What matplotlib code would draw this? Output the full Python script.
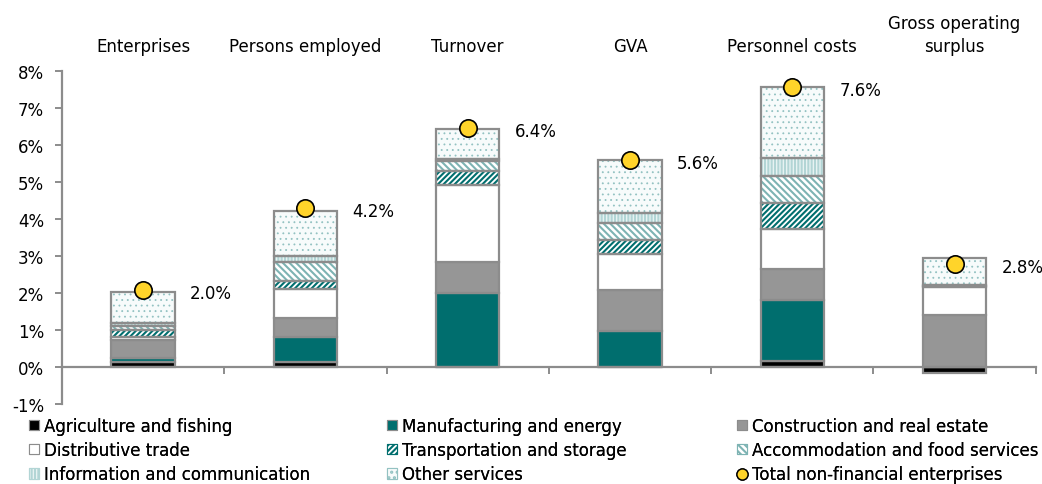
import matplotlib
matplotlib.use("Agg")
import matplotlib.pyplot as plt
from matplotlib.patches import Patch
from matplotlib.lines import Line2D
import numpy as np

plt.rcParams["hatch.linewidth"] = 1.5

categories = ["Enterprises", "Persons employed", "Turnover", "GVA",
              "Personnel costs", "Gross operating\nsurplus"]

agriculture    = [0.14, 0.14, 0.01, 0.00, 0.15, -0.15]
manufacturing  = [0.11, 0.66, 1.99, 0.97, 1.65, 0.00]
construction   = [0.49, 0.52, 0.85, 1.10, 0.85, 1.41]
distributive   = [0.06, 0.78, 2.07, 0.99, 1.07, 0.75]
transportation = [0.20, 0.23, 0.39, 0.37, 0.71, 0.02]
accommodation  = [0.10, 0.50, 0.27, 0.45, 0.74, 0.01]
information    = [0.10, 0.18, 0.05, 0.28, 0.48, 0.02]
other_services = [0.83, 1.21, 0.80, 1.44, 1.92, 0.73]

totals       = [2.08, 4.29, 6.45, 5.60, 7.57, 2.78]
total_labels = ["2.0%", "4.2%", "6.4%", "5.6%", "7.6%", "2.8%"]

series_names = ["Agriculture and fishing", "Manufacturing and energy",
                "Construction and real estate", "Distributive trade",
                "Transportation and storage", "Accommodation and food services",
                "Information and communication", "Other services"]
series_vals = [agriculture, manufacturing, construction, distributive,
               transportation, accommodation, information, other_services]

TEAL = "#006E6E"
EDGE = "#8C8C8C"
styles = [
    dict(facecolor="black", hatch=None, hcolor=None, hlw=None),
    dict(facecolor=TEAL, hatch=None, hcolor=None, hlw=None),
    dict(facecolor="#969696", hatch=None, hcolor=None, hlw=None),
    dict(facecolor="white", hatch=None, hcolor=None, hlw=None),
    dict(facecolor="white", hatch="//////", hcolor=TEAL, hlw=1.5),
    dict(facecolor="white", hatch="\\\\\\\\\\", hcolor="#7DB3B3", hlw=1.5),
    dict(facecolor="#EAF4F4", hatch="|||||", hcolor="#B2D5D5", hlw=1.5),
    dict(facecolor="#F7FBFB", hatch="...", hcolor="#93C2C2", hlw=0.6),
]

FS = 12
fig = plt.figure(figsize=(10.42, 4.85), dpi=100)
ax = fig.add_axes([0.0595, 0.165, 0.9345, 0.6865])

x = np.arange(len(categories))
width = 0.39
pos_bottom = np.zeros(len(categories))
neg_bottom = np.zeros(len(categories))

for vals, st in zip(series_vals, styles):
    vals = np.array(vals, dtype=float)
    bottoms = np.where(vals >= 0, pos_bottom, neg_bottom)
    if st["hatch"]:
        with plt.rc_context({"hatch.linewidth": st["hlw"]}):
            bars = ax.bar(x, vals, width, bottom=bottoms, facecolor=st["facecolor"],
                          edgecolor=st["hcolor"], hatch=st["hatch"], linewidth=0,
                          zorder=2)
        for b in bars:
            if hasattr(b, "set_hatch_linewidth"):
                b.set_hatch_linewidth(st["hlw"])
        ax.bar(x, vals, width, bottom=bottoms, fill=False,
               edgecolor=EDGE, linewidth=1.6, zorder=3)
    else:
        ax.bar(x, vals, width, bottom=bottoms, facecolor=st["facecolor"],
               edgecolor=EDGE, linewidth=1.6, zorder=3)
    pos_bottom = pos_bottom + np.where(vals >= 0, vals, 0)
    neg_bottom = neg_bottom + np.where(vals < 0, vals, 0)

ax.plot(x, totals, linestyle="none", marker="o", markersize=12.5,
        markerfacecolor="#FFD42A", markeredgecolor="black",
        markeredgewidth=1.2, zorder=5)

for xi, t, lab in zip(x, totals, total_labels):
    ax.annotate(lab, (xi, t), xytext=(47, -3), textcoords="offset pixels",
                ha="left", va="center", fontsize=FS, color="black")

for xi, cat in zip(x, categories):
    ax.annotate(cat, (xi, 8), xytext=(0, 16), textcoords="offset pixels",
                ha="center", va="bottom", fontsize=FS, annotation_clip=False,
                linespacing=1.35)

ax.set_xlim(-0.5, len(categories) - 0.5)
ax.set_ylim(-1, 8)
ax.set_yticks(np.arange(-1, 9, 1))
ax.set_yticklabels([f"{v}%" for v in range(-1, 9)], fontsize=FS)
ax.set_xticks(np.arange(-0.5, len(categories), 1))
ax.set_xticklabels([])
ax.tick_params(axis="x", direction="out", length=5, color=EDGE, width=1.4)
ax.tick_params(axis="y", direction="out", length=5, color=EDGE, width=1.4, pad=8)

for s in ["top", "right"]:
    ax.spines[s].set_visible(False)
ax.spines["bottom"].set_position(("data", 0))
ax.spines["bottom"].set_color(EDGE)
ax.spines["bottom"].set_linewidth(1.6)
ax.spines["left"].set_color(EDGE)
ax.spines["left"].set_linewidth(1.6)
ax.spines["bottom"].set_zorder(4)

handles = []
for name, st in zip(series_names, styles):
    if st["hatch"]:
        handles.append(Patch(facecolor=st["facecolor"], edgecolor=st["hcolor"],
                             hatch=st["hatch"], linewidth=0.8, label=name))
    else:
        handles.append(Patch(facecolor=st["facecolor"], edgecolor=EDGE,
                             linewidth=0.8, label=name))
handles.append(Line2D([], [], linestyle="none", marker="o", markersize=8,
                      markerfacecolor="#FFD42A", markeredgecolor="black",
                      label="Total non-financial enterprises"))

columns = [[0, 3, 6], [1, 4, 7], [2, 5, 8]]
col_x = [29 / 1042, 387 / 1042, 737 / 1042]
for cx, idxs in zip(col_x, columns):
    hs = [handles[i] for i in idxs]
    leg = fig.legend(handles=hs, labels=[h.get_label() for h in hs], ncol=1,
                     loc="center left", bbox_to_anchor=(cx, 1 - 451 / 485),
                     frameon=False, fontsize=FS,
                     handlelength=0.6, handleheight=0.6, handletextpad=0.3,
                     labelspacing=0.38, borderaxespad=0.0, borderpad=0.0)
    fig.add_artist(leg)

fig.savefig("out.png", dpi=100)
